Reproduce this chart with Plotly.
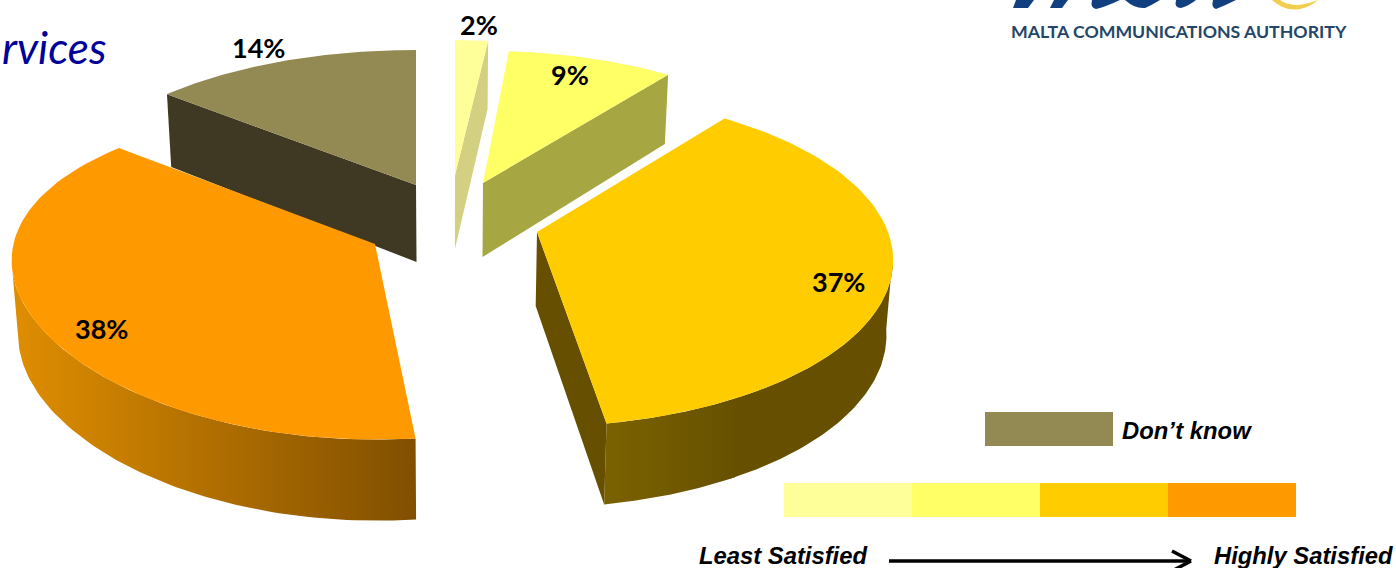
import math
import plotly.graph_objects as go

# --- data -------------------------------------------------------------
slice_names = ["2%", "9%", "37%", "38%", "14%"]
slice_shares = [2, 9, 37, 38, 14]
dont_know_label = "Don’t know"
least_label = "Least Satisfied"
most_label = "Highly Satisfied"
title_fragment = "rvices"
logo_caption = "MALTA COMMUNICATIONS AUTHORITY"

# --- styles / geometry --------------------------------------------------
top_colors = ["#FFFF99", "#FFFF66", "#FFCC00", "#FF9900", "#938953"]
cut_colors = ["#D3D181", "#A6A642", "#665000", "#804F00", "#3F3823"]
apex = [(455, 175), (483, 183), (537, 232), (375, 244), (416, 185)]
view_rot = [0.0, -2.2, -2.3, 1.4, 0.0]
view_rx = [0.88, 0.985, 1.0, 1.03, 1.0]
view_ry = [1.0, 0.98, 1.025, 1.03, 1.0]
view_kx = [0.169, 0.169, 0.169, 0.10, 0.135]
view_depth = [1.0, 1.0, 1.0, 1.0, 1.04]
R, S, K = 351.0, 157.8, 0.169
D, K2 = 74.0, 0.087
VX, VS = 450.0, 0.985
INK = "#000000"
LOGO_BLUE = "#123F7F"
LOGO_GOLD = "#F2CE4E"

# cumulative angles (clockwise from 12 o'clock), from the shares
total = sum(slice_shares)
edges = [0.0]
for s in slice_shares:
    edges.append(edges[-1] + 360.0 * s / total)


def top_pt(i, deg):
    t = math.radians(deg + view_rot[i])
    u, v = math.sin(t), math.cos(t)
    x = apex[i][0] + R * view_rx[i] * u / (1 + view_kx[i] * v)
    y = apex[i][1] - S * view_ry[i] * v / (1 + K * v)
    return x, y


def bot_pt(i, deg, on_apex=False):
    if on_apex:
        x, y = apex[i]
        v = 0.0
    else:
        x, y = top_pt(i, deg)
        v = math.cos(math.radians(deg + view_rot[i]))
    return VX + (x - VX) * VS, y + D * view_depth[i] / (1 + K2 * v)


def frange(a, b, n=80):
    return [a + (b - a) * j / n for j in range(n + 1)]


def poly(pts, color, grad=None):
    xs = [p[0] for p in pts] + [pts[0][0]]
    ys = [p[1] for p in pts] + [pts[0][1]]
    kw = dict(x=xs, y=ys, mode="lines", line=dict(width=0.01, color=color),
              fill="toself", hoverinfo="skip", showlegend=False)
    if grad:
        kw["fillgradient"] = dict(type="horizontal", colorscale=grad)
    else:
        kw["fillcolor"] = color
    return go.Scatter(**kw)


def cut_face(i, deg, color):
    a = top_pt(i, deg)
    b = bot_pt(i, deg)
    c = bot_pt(i, deg, on_apex=True)
    d = apex[i]
    return poly([d, a, b, c], color)


def wall(i, a, b, grad):
    tops = [top_pt(i, d) for d in frange(a, b)]
    bots = [bot_pt(i, d) for d in frange(b, a)]
    return poly(tops + bots, grad[0][1], grad)


def top_face(i):
    pts = [apex[i]] + [top_pt(i, d) for d in frange(edges[i], edges[i + 1])]
    return poly(pts, top_colors[i])


traces = []
# 14 % slice
traces += [cut_face(4, edges[4], cut_colors[4]), top_face(4)]
# 2 % slice
traces += [cut_face(0, edges[1], cut_colors[0]), top_face(0)]
# 9 % slice
traces += [cut_face(1, edges[2], cut_colors[1]), top_face(1)]
# 37 % slice
traces += [wall(2, 100, edges[3] - 19, [[0, "#665000"], [1, "#665000"]])]
traces += [wall(2, edges[3] - 20, edges[3], [[0, "#7B6200"], [1, "#665000"]])]
traces += [cut_face(2, edges[3], cut_colors[2]), top_face(2)]
# 38 % slice
traces += [wall(3, edges[3], 262, [[0, "#E08E00"], [1, "#804F00"]]), top_face(3)]

fig = go.Figure(traces)

# legend swatches
shapes = [dict(type="rect", x0=985, x1=1113, y0=412, y1=446, fillcolor=top_colors[4], line_width=0, layer="above")]
for j, c in enumerate(top_colors[:4]):
    shapes.append(dict(type="rect", x0=784 + 128 * j, x1=912 + 128 * j, y0=483, y1=517,
                       fillcolor=c, line_width=0, layer="above"))

# arrow between the scale ends
for x0, y0, x1, y1 in [(889, 561, 1189, 561), (1172, 551, 1191, 561), (1172, 571, 1191, 561)]:
    shapes.append(dict(type="line", x0=x0, y0=y0, x1=x1, y1=y1, line=dict(color=INK, width=3.5), layer="above"))

# cropped logo strokes at the top edge
logo_paths = [
    "M1016,0 L1034,0 L1028,8 L1013,8 Z",
    "M1054,0 L1068,0 L1062,8 L1050,8 Z",
    "M1092,0 Q1090,8 1096,9 Q1105,7 1120,0 Z",
    "M1125,0 Q1135,9 1145,8 Q1152,5 1160,0 Z",
    "M1176,0 Q1174,8 1181,8 Q1190,5 1196,0 Z",
    "M1213,0 Q1211,8 1216,9 Q1226,5 1236,0 Z",
]
for p in logo_paths:
    shapes.append(dict(type="path", path=p, fillcolor=LOGO_BLUE, line_width=0, layer="above"))
shapes.append(dict(type="path", path="M1272,0 Q1285,12 1300,9 Q1310,7 1318,0 Q1305,5 1295,5 Q1285,4 1280,0 Z",
                   fillcolor=LOGO_GOLD, line_width=0, layer="above"))
fig.update_layout(shapes=shapes)


def note(x, y, text, size, family=None, color=INK, bold=True, italic=False, anchor="center", xshift=0):
    t = text
    if bold:
        t = f"<b>{t}</b>"
    if italic:
        t = f"<i>{t}</i>"
    fig.add_annotation(x=x, y=y, text=t, showarrow=False, xanchor=anchor, yanchor="middle", xshift=xshift,
                       font=dict(size=size, family=family or "Lato", color=color))


label_pos = [(479, 24), (570, 74), (838, 281), (101, 328), (258, 47)]
for nm, (lx, ly) in zip(slice_names, label_pos):
    note(lx, ly, nm, 27)

note(0, 47, title_fragment, 44, color="#000099", bold=False, italic=True, anchor="left")
note(1179, 31, logo_caption, 17.7, color="#244668", bold=True)
note(1120, 430, dont_know_label, 23.8, family="Liberation Sans", italic=True, anchor="left")
note(697, 555, least_label, 23.8, family="Liberation Sans", italic=True, anchor="left")
note(1212, 555, most_label, 23.8, family="Liberation Sans", italic=True, anchor="left")

fig.update_layout(
    width=1396, height=568, margin=dict(l=0, r=0, t=0, b=0),
    paper_bgcolor="white", plot_bgcolor="white", showlegend=False,
    xaxis=dict(range=[0, 1396], visible=False, fixedrange=True),
    yaxis=dict(range=[568, 0], visible=False, fixedrange=True),
)
fig.write_html("out.html", post_script="document.body.style.margin='0';", config={"displayModeBar": False})
